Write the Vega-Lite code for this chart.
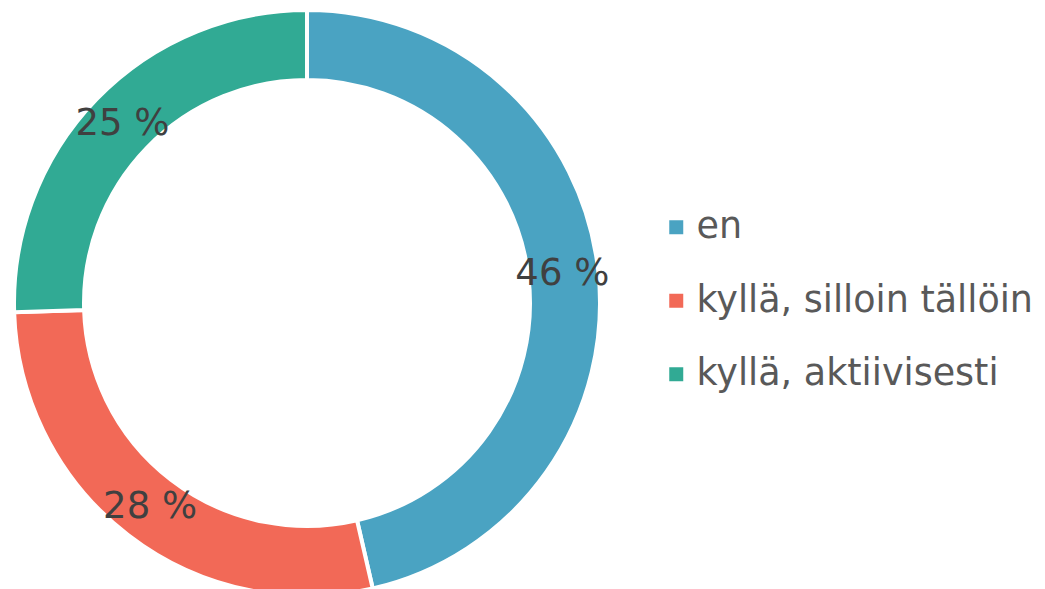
{
  "$schema": "https://vega.github.io/schema/vega-lite/v6.json",
  "width": 614,
  "height": 590,
  "padding": {"left": 0, "top": 2, "right": 0, "bottom": 0},
  "background": "white",
  "view": {"stroke": null},
  "data": {
    "values": [
      {"vastaus": "en", "osuus": 46.4, "teksti": "46 %", "jarjestys": 1},
      {"vastaus": "kyllä, silloin tällöin", "osuus": 28.1, "teksti": "28 %", "jarjestys": 2},
      {"vastaus": "kyllä, aktiivisesti", "osuus": 25.5, "teksti": "25 %", "jarjestys": 3}
    ]
  },
  "encoding": {
    "theta": {"field": "osuus", "type": "quantitative", "stack": true},
    "order": {"field": "jarjestys", "type": "ordinal"},
    "color": {
      "field": "vastaus",
      "type": "nominal",
      "scale": {
        "domain": ["en", "kyllä, silloin tällöin", "kyllä, aktiivisesti"],
        "range": ["#4AA3C2", "#F26957", "#31AA94"]
      },
      "legend": {
        "title": null,
        "orient": "none",
        "legendX": 658,
        "legendY": 201,
        "symbolType": "square",
        "symbolSize": 196,
        "symbolStrokeWidth": 0,
        "labelFont": "DejaVu Sans",
        "labelFontSize": 36.5,
        "labelColor": "#595959",
        "labelOffset": 2,
        "rowPadding": 36.5,
        "labelLimit": 600
      }
    }
  },
  "layer": [
    {
      "mark": {"type": "arc", "outerRadius": 293, "innerRadius": 223, "stroke": "white", "strokeWidth": 4}
    },
    {
      "mark": {"type": "text", "radius": 257, "font": "DejaVu Sans", "fontSize": 37, "fill": "#404040", "align": "center", "baseline": "middle"},
      "encoding": {
        "text": {"field": "teksti"},
        "color": {"value": "#404040"}
      }
    }
  ]
}
